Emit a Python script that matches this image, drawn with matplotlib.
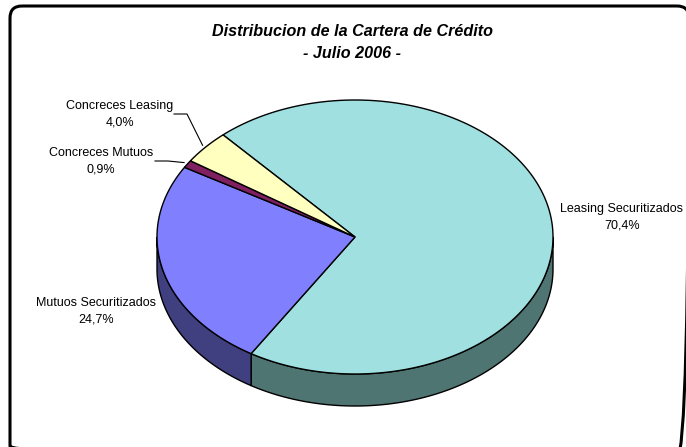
import numpy as np
import matplotlib
matplotlib.use("Agg")
import matplotlib.pyplot as plt
from matplotlib.patches import FancyBboxPatch

# data, in drawing order (clockwise from the start angle)
categories = ["Leasing Securitizados", "Mutuos Securitizados", "Concreces Mutuos", "Concreces Leasing"]
shares = [70.4, 24.7, 0.9, 4.0]
top_colors = ["#A0E0E0", "#8080FF", "#802060", "#FFFFC0"]
side_colors = ["#4F7572", "#404080", "#401030", "#808060"]

title_lines = ["Distribucion de la Cartera de Crédito", "- Julio 2006 -"]

# label placement (pixels) and leader lines
label_pos = {
    "Leasing Securitizados": (622, 217),
    "Mutuos Securitizados": (96, 311),
    "Concreces Mutuos": (101, 161),
    "Concreces Leasing": (120, 114),
}
leader_start = {
    "Concreces Mutuos": (155, 161),
    "Concreces Leasing": (174, 114),
}

# pie geometry (pixels)
cx, cy = 355, 237
rx, ry = 198, 137
depth = 32
start_angle = 131.8

plt.rcParams['font.family'] = ['Liberation Sans', 'DejaVu Sans']

fig = plt.figure(figsize=(6.86, 4.47), dpi=100)
ax = fig.add_axes([0, 0, 1, 1])
ax.set_xlim(0, 686)
ax.set_ylim(447, 0)
ax.axis('off')


def arc(t1, t2, n=200):
    t = np.radians(np.linspace(t1, t2, n))
    return cx + rx * np.cos(t), cy - ry * np.sin(t)


# slice angles (counter-clockwise ranges)
total = sum(shares)
bounds = []
a = start_angle
for s in shares:
    sweep = 360.0 * s / total
    bounds.append((a - sweep, a))
    a -= sweep

# side walls, visible front half only (180..360 degrees)
for (t1, t2), col in zip(bounds, side_colors):
    for off in (0, 360, -360):
        lo = max(t1 + off, 180)
        hi = min(t2 + off, 360)
        if hi > lo:
            x, y = arc(lo, hi)
            xs = np.concatenate([x, x[::-1]])
            ys = np.concatenate([y, y[::-1] + depth])
            ax.fill(xs, ys, facecolor=col, edgecolor='black', linewidth=1, zorder=2)

# top faces
for (t1, t2), col in zip(bounds, top_colors):
    x, y = arc(t1, t2)
    xs = np.concatenate([[cx], x, [cx]])
    ys = np.concatenate([[cy], y, [cy]])
    ax.fill(xs, ys, facecolor=col, edgecolor='black', linewidth=1, zorder=3)

# labels
for name, s, (t1, t2) in zip(categories, shares, bounds):
    lx, ly = label_pos[name]
    txt = f"{name}\n{s:.1f}%".replace('.', ',')
    ax.text(lx, ly, txt, ha='center', va='center', fontsize=9,
            linespacing=1.55, zorder=5)
    if name in leader_start:
        mid = np.radians((t1 + t2) / 2)
        ex = cx + rx * 1.02 * np.cos(mid)
        ey = cy - ry * 1.02 * np.sin(mid)
        sx, sy = leader_start[name]
        ax.plot([sx, sx + 13, ex], [sy, sy, ey], color='black', linewidth=0.8, zorder=4)

# title
ax.text(352, 31, title_lines[0], ha='center', va='center', fontsize=11.6,
        fontweight='bold', fontstyle='italic')
ax.text(352, 54, title_lines[1], ha='center', va='center', fontsize=11.6,
        fontweight='bold', fontstyle='italic')

# rounded frame around the chart area (right and bottom edges fall outside)
frame = FancyBboxPatch((10, 6), 679, 452, boxstyle="round,pad=0,rounding_size=12",
                       facecolor='none', edgecolor='black', linewidth=2.2, zorder=6,
                       clip_on=False)
ax.add_patch(frame)

fig.savefig("out.png", dpi=100)
